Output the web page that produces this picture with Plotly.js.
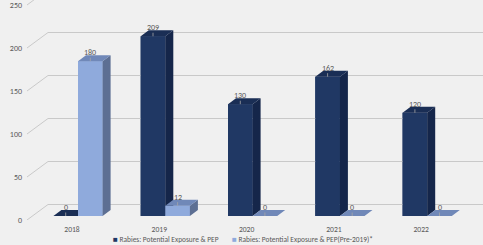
<!DOCTYPE html>
<html><head><meta charset="utf-8">
<script src="https://cdn.plot.ly/plotly-3.0.1.min.js"></script>
<style>html,body{margin:0;padding:0;background:#f0f0f0}</style>
</head><body><div id="chart" style="width:483px;height:245px"></div>
<script>
// ---- data ----
const categories = ['2018', '2019', '2020', '2021', '2022'];
const seriesNames = ['Rabies: Potential Exposure & PEP', 'Rabies: Potential Exposure & PEP(Pre-2019)*'];
const pepValues = [0, 209, 130, 162, 120];
const prePepValues = [180, 12, 0, 0, 0];
const yTicks = [0, 50, 100, 150, 200, 250];

// ---- geometry (styling) ----
const W = 483, H = 245, ML = 27, MB = 25;
const PX_X = 87.3, PX_Y = 0.86;
const xRange = [(ML - 78) / PX_X, (W - 78) / PX_X];
const plotH = H - MB;
const SHIFT = 4 / PX_Y;                 // front plane sits 4px below the bar plane
const BW = 24.6 / PX_X, DX = 8 / PX_X, DY = 6 / PX_Y;
const BACK = 15.5 / PX_Y, KNEE = (48 - 78) / PX_X;
const FONT = 'Carlito, "Liberation Sans Narrow", "Liberation Sans", Arial, sans-serif';
const TXT = '#595959';
const idx = categories.map((c, i) => i);

const colors = [
  {front: '#203864', top: '#1a2e55', side: '#15264a'},
  {front: '#8faadc', top: '#7088b8', side: '#5d6f93'}
];

const series = [pepValues, prePepValues];
const offsets = [-BW, 0];
const traces = [];

// front faces as bar traces
series.forEach((vals, s) => {
  traces.push({type: 'bar', x: idx, y: vals, width: BW, offset: offsets[s], name: seriesNames[s],
    marker: {color: colors[s].front, line: {width: 0}}, showlegend: false, hoverinfo: 'skip'});
});

// perspective gridlines (scatter, drawn before the 3D faces)
const gx = [], gy = [];
yTicks.forEach(t => {
  gx.push(xRange[0], KNEE, xRange[1], null);
  gy.push(t - SHIFT, t + BACK - SHIFT, t + BACK - SHIFT, null);
});
traces.push({type: 'scatter', mode: 'lines', x: gx, y: gy, cliponaxis: false,
  line: {color: '#c9c9c9', width: 1}, hoverinfo: 'skip', showlegend: false, connectgaps: false});

function poly(vals, off, kind) {
  const x = [], y = [];
  vals.forEach((v, i) => {
    const x0 = i + off, x1 = x0 + BW;
    if (kind === 'top') { x.push(x0, x1, x1 + DX, x0 + DX, x0, null); y.push(v, v, v + DY, v + DY, v, null); }
    else if (kind === 'side') { x.push(x1, x1 + DX, x1 + DX, x1, x1, null); y.push(0, DY, v + DY, v, 0, null); }
    else { x.push(x0, x1, x1, x0, x0, null); y.push(0, 0, v, v, 0, null); }
  });
  return {x, y};
}
series.forEach((vals, s) => {
  ['front', 'side', 'top'].forEach(k => {
    const p = poly(vals, offsets[s], k);
    traces.push({type: 'scatter', mode: 'lines', x: p.x, y: p.y, fill: 'toself',
      fillcolor: colors[s][k], line: {width: 0, color: colors[s][k]}, hoverinfo: 'skip', showlegend: false});
  });
});

// data labels
const annotations = [];
series.forEach((vals, s) => {
  vals.forEach((v, i) => {
    annotations.push({x: i + offsets[s] + BW / 2, y: v, xref: 'x', yref: 'y', text: String(v),
      showarrow: true, arrowhead: 0, arrowwidth: 0.8, arrowcolor: '#a6a6a6', ax: 0, ay: -9, standoff: 0,
      font: {family: FONT, size: 8, color: TXT}, borderpad: 0});
  });
});
// legend (text entries with coloured square keys)
const legendLeftPx = [112, 231];
series.forEach((vals, s) => {
  annotations.push({xref: 'paper', yref: 'paper', x: (legendLeftPx[s] - ML) / (W - ML), xanchor: 'left',
    y: -(239 - plotH) / plotH, yanchor: 'middle', showarrow: false,
    text: '<span style="color:' + colors[s].front + ';font-size:8px">■</span> ' + seriesNames[s],
    font: {family: FONT, size: 7.4, color: TXT}, borderpad: 0});
});

const layout = {
  width: W, height: H,
  margin: {l: ML, r: 0, t: 0, b: MB, pad: 0},
  paper_bgcolor: '#f0f0f0', plot_bgcolor: '#f0f0f0',
  font: {family: FONT, size: 8, color: TXT},
  xaxis: {range: xRange, tickmode: 'array', tickvals: idx, ticktext: categories,
    showgrid: false, zeroline: false, showline: false, ticks: '', ticklabelshift: -6, ticklabelstandoff: 3,
    tickfont: {family: FONT, size: 7.6, color: TXT}, fixedrange: true, automargin: false},
  yaxis: {range: [-SHIFT, plotH / PX_Y - SHIFT], tickmode: 'array',
    tickvals: yTicks.map(t => t - SHIFT), ticktext: yTicks.map(String),
    showgrid: false, zeroline: false, showline: false, ticks: '', ticklabelstandoff: 4,
    ticklabeloverflow: 'allow', automargin: false,
    tickfont: {family: FONT, size: 8, color: TXT}, fixedrange: true},
  barmode: 'overlay',
  showlegend: false,
  annotations: annotations
};
Plotly.newPlot('chart', traces, layout, {staticPlot: true, displayModeBar: false});
</script></body></html>
